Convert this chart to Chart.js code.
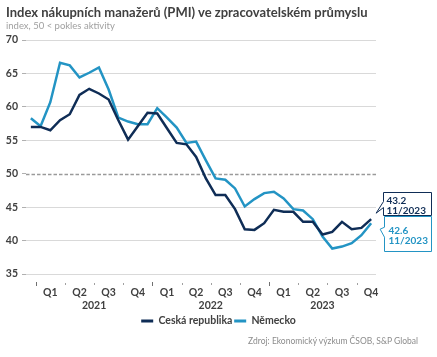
<!DOCTYPE html>
<html><head><meta charset="utf-8">
<script src="https://cdn.jsdelivr.net/npm/chart.js@4/dist/chart.umd.min.js"></script>
<style>
html,body{margin:0;padding:0;background:#fff;}
#wrap{position:relative;width:437px;height:357px;overflow:hidden;font-family:Lato,sans-serif;}
canvas{position:absolute;left:0;top:0;}
.t{position:absolute;white-space:nowrap;}
#title{left:6px;top:6px;font-size:13px;line-height:13px;font-weight:700;color:#404040;}
#sub{left:6px;top:20.5px;font-size:9.5px;line-height:9.5px;color:#a0a0a0;}
#src{right:19px;top:336.5px;font-size:8.5px;line-height:8.5px;color:#8c8c8c;}
</style></head><body>
<div id="wrap">
<canvas id="c" width="437" height="357"></canvas>
<div class="t" id="title">Index nákupních manažerů (PMI) ve zpracovatelském průmyslu</div>
<div class="t" id="sub">index, 50 &lt; pokles aktivity</div>
<div class="t" id="src">Zdroj: Ekonomický výzkum ČSOB, S&amp;P Global</div>
</div>
<script>
const months = ['12/2020',
 '1/2021','2/2021','3/2021','4/2021','5/2021','6/2021','7/2021','8/2021','9/2021','10/2021','11/2021','12/2021',
 '1/2022','2/2022','3/2022','4/2022','5/2022','6/2022','7/2022','8/2022','9/2022','10/2022','11/2022','12/2022',
 '1/2023','2/2023','3/2023','4/2023','5/2023','6/2023','7/2023','8/2023','9/2023','10/2023','11/2023'];
const czech = [57.0,
 57.0,56.5,58.0,58.9,61.8,62.7,62.0,61.1,58.0,55.1,57.1,59.1,
 59.0,56.8,54.6,54.4,52.5,49.3,46.8,46.8,44.7,41.7,41.6,42.6,
 44.6,44.3,44.3,42.8,42.8,40.9,41.3,42.8,41.7,41.9,43.2];
const germany = [58.3,
 57.1,60.7,66.6,66.2,64.4,65.1,65.9,62.6,58.4,57.8,57.4,57.4,
 59.8,58.4,56.9,54.6,54.8,52.0,49.3,49.1,47.8,45.1,46.2,47.1,
 47.3,46.3,44.7,44.5,43.2,40.6,38.8,39.1,39.6,40.8,42.6];
const seriesNames = ['Ceská republika','Německo'];
const quarterNames = ['Q1','Q2','Q3','Q4'];
const yearLabels = ['2021','2022','2023'];
const yTickValues = [35,40,45,50,55,60,65,70];
const refValue = 50;

const NAVY = '#0f2d56', BLUE = '#2394c4', TXT = '#404040';
const FONT = 'Lato, sans-serif';

const mNum = months.map(m => parseInt(m.split('/')[0], 10));
const mYear = months.map(m => m.split('/')[1]);
const qTicks = [], bounds = [];
mNum.forEach((m, i) => {
  if ((m - 1) % 3 === 0) {
    qTicks.push({v: i + 1, label: quarterNames[(m - 1) / 3]});
    bounds.push({v: i - 0.5, year: m === 1});
  }
});
const yTicks = yearLabels.map(y => {
  const idx = mYear.map((yy, i) => yy === y ? i : -1).filter(i => i >= 0);
  return {v: idx.reduce((a, b) => a + b, 0) / idx.length, label: y};
});

const xMin = -0.5, xMax = months.length - 0.5;

const decor = {
  id: 'decor',
  beforeDatasetsDraw(chart) {
    const {ctx, chartArea} = chart;
    const sy = chart.scales.y, sx = chart.scales.x;
    ctx.save();
    const y = Math.round(sy.getPixelForValue(refValue)) + 0.5;
    ctx.strokeStyle = '#9a9a9a'; ctx.lineWidth = 1.5; ctx.setLineDash([3.5, 2]);
    ctx.beginPath(); ctx.moveTo(chartArea.left, y); ctx.lineTo(chartArea.right, y); ctx.stroke();
    ctx.setLineDash([]); ctx.lineWidth = 1;
    const b = chartArea.bottom;
    bounds.forEach(bd => {
      const x = Math.round(sx.getPixelForValue(bd.v)) + 0.5;
      ctx.strokeStyle = bd.year ? '#707070' : '#a0a0a0';
      ctx.beginPath();
      ctx.moveTo(x, b + (bd.year ? 8 : 9)); ctx.lineTo(x, b + (bd.year ? 12 : 11));
      ctx.stroke();
    });
    ctx.restore();
  },
  afterDatasetsDraw(chart) {
    const {ctx} = chart;
    const last = months.length - 1;
    const specs = [
      {ds: 0, color: NAVY, bx: 12, by: -27, w: 48, h: 23, tx: 3, l1: 8, l2: 18.5, tip: [5, -6], base: [9, 15]},
      {ds: 1, color: BLUE, bx: 13, by: -7, w: 47, h: 35, tx: 4, l1: 14, l2: 24.5, tip: [9, 6], base: [10.7, 20.7]}
    ];
    ctx.save();
    specs.forEach(s => {
      const pt = chart.getDatasetMeta(s.ds).data[last];
      const L = Math.round(pt.x + s.bx) + 0.5, T = Math.round(pt.y + s.by) + 0.5;
      ctx.beginPath();
      ctx.moveTo(L, T); ctx.lineTo(L + s.w, T); ctx.lineTo(L + s.w, T + s.h); ctx.lineTo(L, T + s.h);
      ctx.lineTo(L, T + s.base[1]); ctx.lineTo(pt.x + s.tip[0], pt.y + s.tip[1]); ctx.lineTo(L, T + s.base[0]);
      ctx.closePath();
      ctx.fillStyle = '#fff'; ctx.fill();
      ctx.strokeStyle = s.color; ctx.lineWidth = 1; ctx.stroke();
      ctx.fillStyle = s.color; ctx.font = 'bold 10px ' + FONT;
      ctx.textBaseline = 'middle'; ctx.textAlign = 'left';
      const val = chart.data.datasets[s.ds].data[last].y;
      ctx.fillText(val.toFixed(1), L + s.tx, T + s.l1);
      ctx.fillText(months[last], L + s.tx, T + s.l2);
    });
    ctx.restore();
  }
};

new Chart(document.getElementById('c'), {
  type: 'line',
  data: {
    datasets: [
      {label: seriesNames[0], data: czech.map((v, i) => ({x: i, y: v})), borderColor: NAVY, backgroundColor: NAVY,
       borderWidth: 2.5, pointRadius: 0, tension: 0, xAxisID: 'x', yAxisID: 'y'},
      {label: seriesNames[1], data: germany.map((v, i) => ({x: i, y: v})), borderColor: BLUE, backgroundColor: BLUE,
       borderWidth: 2.5, pointRadius: 0, tension: 0, xAxisID: 'x', yAxisID: 'y'}
    ]
  },
  options: {
    responsive: false, animation: false, devicePixelRatio: 1,
    layout: {padding: {top: 40, left: 0, right: 0, bottom: 20.75}},
    plugins: {
      tooltip: {enabled: false},
      legend: {
        position: 'bottom',
        labels: {
          boxWidth: 12, boxHeight: 3, padding: 1.75, color: TXT,
          font: {family: FONT, size: 10.5, weight: 'bold'},
          generateLabels: (chart) => Chart.defaults.plugins.legend.labels.generateLabels(chart)
            .map(l => Object.assign(l, {lineWidth: 0, fillStyle: l.strokeStyle}))
        }
      }
    },
    scales: {
      x: {
        type: 'linear', min: xMin, max: xMax, position: 'bottom', weight: 0,
        afterBuildTicks: s => { s.ticks = qTicks.map(t => ({value: t.v})); },
        afterFit: s => { s.height = 25; },
        grid: {display: false, drawTicks: false}, border: {display: false},
        ticks: {autoSkip: false, maxRotation: 0, padding: 12.7, color: TXT,
          font: {family: FONT, size: 10.5, weight: 'bold'},
          callback: (v, i) => qTicks[i] ? qTicks[i].label : ''}
      },
      x2: {
        type: 'linear', min: xMin, max: xMax, position: 'bottom', weight: 1,
        afterBuildTicks: s => { s.ticks = yTicks.map(t => ({value: t.v})); },
        afterFit: s => { s.height = 15; },
        grid: {display: false, drawTicks: false}, border: {display: false},
        ticks: {autoSkip: false, maxRotation: 0, padding: 0.2, color: TXT,
          font: {family: FONT, size: 10.5, weight: 'bold'},
          callback: (v, i) => yTicks[i] ? yTicks[i].label : ''}
      },
      y: {
        type: 'linear', min: 35, max: 70, position: 'left',
        afterBuildTicks: s => { s.ticks = yTickValues.map(v => ({value: v})); },
        afterFit: s => { s.width = 26; },
        border: {display: false},
        grid: {color: c => (c.tick && c.tick.value === refValue) ? 'rgba(0,0,0,0)' : '#d9d9d9',
               tickColor: '#b0b0b0', tickLength: 4, lineWidth: 1},
        ticks: {padding: 4, color: TXT, font: {family: FONT, size: 10.5, weight: 'bold'}}
      },
      yR: {
        type: 'linear', position: 'right', display: true,
        afterFit: s => { s.width = 61; },
        grid: {display: false, drawTicks: false}, border: {display: false},
        ticks: {display: false}
      }
    }
  },
  plugins: [decor]
});
</script>
</body></html>
